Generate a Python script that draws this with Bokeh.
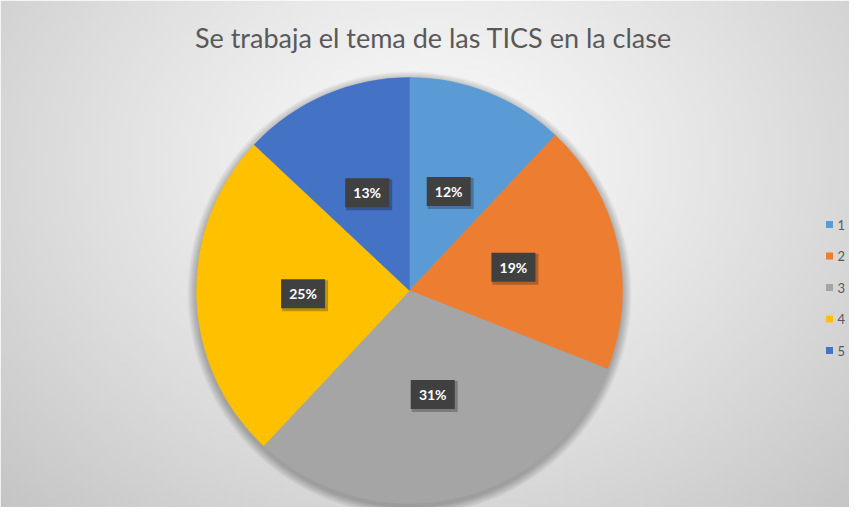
import numpy as np
from bokeh.plotting import figure
from bokeh.models import Range1d, ColumnDataSource
from bokeh.core.properties import value
from bokeh.embed import file_html
from bokeh.resources import INLINE

# ---- data ----
categories = ["1", "2", "3", "4", "5"]
percents = [12, 19, 31, 25, 13]
colors = ["#5B9BD5", "#ED7D31", "#A5A5A5", "#FFC000", "#4472C4"]
title_text = "Se trabaja el tema de las TICS en la clase"

# ---- layout (pixel-like data coordinates, y negated) ----
W, H = 849, 507
X0, Y0 = 8, 8
cx, cy, R = 417, -298, 213

p = figure(width=W, height=H, output_backend="svg", toolbar_location=None,
           x_range=Range1d(X0, X0 + W), y_range=Range1d(-(Y0 + H), -Y0),
           min_border=0, outline_line_color=None)
p.axis.visible = False
p.grid.visible = False
p.background_fill_color = "white"
p.border_fill_color = "white"

# background radial gradient
nx, ny = 200, 120
gx = np.linspace(X0, X0 + W, nx)
gy = np.linspace(-(Y0 + H), -Y0, ny)
GX, GY = np.meshgrid(gx, gy)
d = np.sqrt(((GX - 440) / 600) ** 2 + ((-GY - 170) / 480) ** 2)
lum = np.clip(250 - 52 * d ** 1.2, 0, 255).astype(np.uint32)
img = (255 << 24) | (lum << 16) | (lum << 8) | lum
p.image_rgba(image=[img.astype(np.uint32)], x=X0, y=-(Y0 + H), dw=W, dh=H)

# pie shadow
for i in range(1, 10):
    p.circle(x=cx, y=cy - 3, radius=R + i, fill_color="black", fill_alpha=0.03, line_color=None)

# wedges
frac = np.array(percents, dtype=float) / sum(percents)
cum = np.concatenate([[0], np.cumsum(frac)])
start = np.pi / 2 - cum[:-1] * 2 * np.pi
end = np.pi / 2 - cum[1:] * 2 * np.pi
src = ColumnDataSource(dict(start=start, end=end, color=colors))
p.wedge(x=cx, y=cy, radius=R, start_angle="start", end_angle="end", direction="clock",
        fill_color="color", line_color="color", line_width=0.5, source=src)

# labels
mid = (start + end) / 2
lx = cx + 0.5 * R * np.cos(mid)
ly = cy + 0.5 * R * np.sin(mid)
labels = [f"{v}%" for v in percents]
lsrc = ColumnDataSource(dict(x=lx, y=ly, xs=lx + 2, ys=ly - 2, t=labels))
p.rect(x="xs", y="ys", width=46, height=31, width_units="screen", height_units="screen",
       fill_color="black", fill_alpha=0.25, line_color=None, source=lsrc)
p.rect(x="x", y="y", width=44, height=29, width_units="screen", height_units="screen",
       fill_color="#404040", line_color=None, source=lsrc)
p.text(x="x", y="y", text="t", text_align="center", text_baseline="middle",
       text_color="white", text_font=value("Lato"), text_font_style="bold",
       text_font_size="14px", source=lsrc)

# title
p.text(x=[441], y=[-45], text=[title_text], text_align="center", text_baseline="middle",
       text_color="#595959", text_font=value("Lato"), text_font_size="27px")

# legend
ly_leg = -(232 + 31.5 * np.arange(len(categories)))
p.scatter(x=[837] * len(categories), y=ly_leg, marker="square", size=7,
          fill_color=colors, line_color=None)
p.text(x=[845] * len(categories), y=ly_leg, text=categories, text_align="left",
       text_baseline="middle", text_color="#595959", text_font=value("Lato"),
       text_font_size="13px")

open("out.html", "w").write(file_html(p, INLINE))
